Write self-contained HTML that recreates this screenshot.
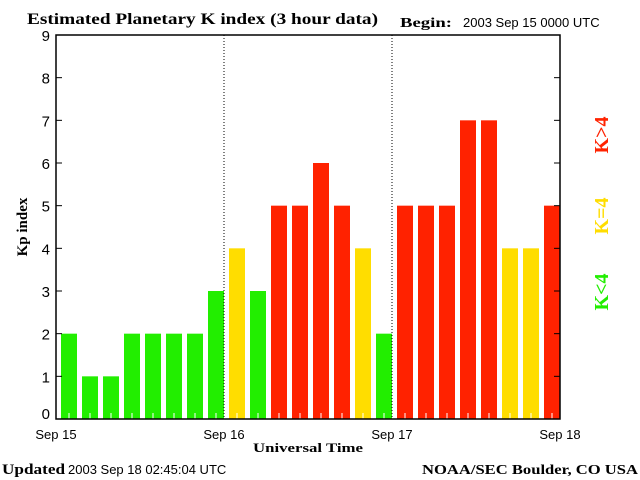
<!DOCTYPE html>
<html><head><meta charset="utf-8"><style>
body{margin:0;background:#fff;}
svg{display:block;}
.serif{font-family:"Liberation Serif",serif;font-weight:bold;}
.sans{font-family:"Liberation Sans",sans-serif;}
</style></head><body>
<svg id="chart" width="640" height="480" viewBox="0 0 640 480" xmlns="http://www.w3.org/2000/svg">
<text x="27" y="24" class="serif" font-size="16" textLength="351" lengthAdjust="spacingAndGlyphs">Estimated Planetary K index (3 hour data)</text>
<text x="400" y="27" class="serif" font-size="14" textLength="52" lengthAdjust="spacingAndGlyphs">Begin:</text>
<text x="463" y="27" class="sans" font-size="13">2003 Sep 15 0000 UTC</text>
<g id="bars"></g>
<g id="axes"></g>
<text transform="translate(27,227) rotate(-90)" text-anchor="middle" class="serif" font-size="15">Kp index</text>
<text x="253" y="452" class="serif" font-size="13" textLength="110" lengthAdjust="spacingAndGlyphs">Universal Time</text>
<text x="2" y="474" class="serif" font-size="15" textLength="63" lengthAdjust="spacingAndGlyphs">Updated</text>
<text x="68" y="474" class="sans" font-size="13">2003 Sep 18 02:45:04 UTC</text>
<text x="422" y="474" class="serif" font-size="14" textLength="216" lengthAdjust="spacingAndGlyphs">NOAA/SEC Boulder, CO USA</text>
<text transform="translate(608,135) rotate(-90)" text-anchor="middle" class="serif" font-size="20" fill="#ff2200">K&gt;4</text>
<text transform="translate(608,216) rotate(-90)" text-anchor="middle" class="serif" font-size="20" fill="#ffdd00">K=4</text>
<text transform="translate(608,292) rotate(-90)" text-anchor="middle" class="serif" font-size="20" fill="#22ee00">K&lt;4</text>
</svg>
<script>
const kpValues=[2,1,1,2,2,2,2,3,4,3,5,5,6,5,4,2,5,5,5,7,7,4,4,5];
const yTicks=[0,1,2,3,4,5,6,7,8,9];
const dayLabels=["Sep 15","Sep 16","Sep 17","Sep 18"];
const NS="http://www.w3.org/2000/svg";
const L=56,R=560,T=35,B=419;
const slot=(R-L)/kpValues.length;
function yS(v){return B-v*(B-T)/9;}
function xS(i){return L+i*slot;}
function mk(tag,attrs,parent){const e=document.createElementNS(NS,tag);for(const k in attrs)e.setAttribute(k,attrs[k]);parent.appendChild(e);return e;}
const bars=document.getElementById('bars'),axes=document.getElementById('axes');
kpValues.forEach((v,i)=>{
 const c=v<4?"#22ee00":(v===4?"#ffdd00":"#ff2200");
 const r=mk('rect',{x:xS(i)+5,y:yS(v),width:16,height:B-yS(v),fill:c},bars);
 
 
 const t=mk('line',{x1:xS(i)+13,x2:xS(i)+13,y1:B-6,y2:B,stroke:"#fff","stroke-width":1},bars);
 
 
});
const f=mk('rect',{x:L,y:T,width:R-L,height:B-T,fill:"none",stroke:"#000","stroke-width":1.5},axes);


yTicks.forEach(v=>{
 const y=yS(v);
 mk('line',{x1:L,x2:L+6,y1:y,y2:y,stroke:"#000"},axes);
 mk('line',{x1:R-6,x2:R,y1:y,y2:y,stroke:"#000"},axes);
 const t=mk('text',{x:L-6,y:y+(v===0?0:6),"text-anchor":"end","font-family":"Liberation Sans,sans-serif","font-size":15},axes);
 t.textContent=v;
 
 
});
dayLabels.forEach((d,i)=>{
 const x=L+i*(R-L)/3;
 if(i>0&&i<3){const l=mk('line',{x1:x,x2:x,y1:T,y2:B,stroke:"#000","stroke-dasharray":"1,2"},axes);
  
  }
 const t=mk('text',{x:x,y:439,"text-anchor":"middle","font-family":"Liberation Sans,sans-serif","font-size":13},axes);
 t.textContent=d;
 
 
});
</script>
</body></html>
